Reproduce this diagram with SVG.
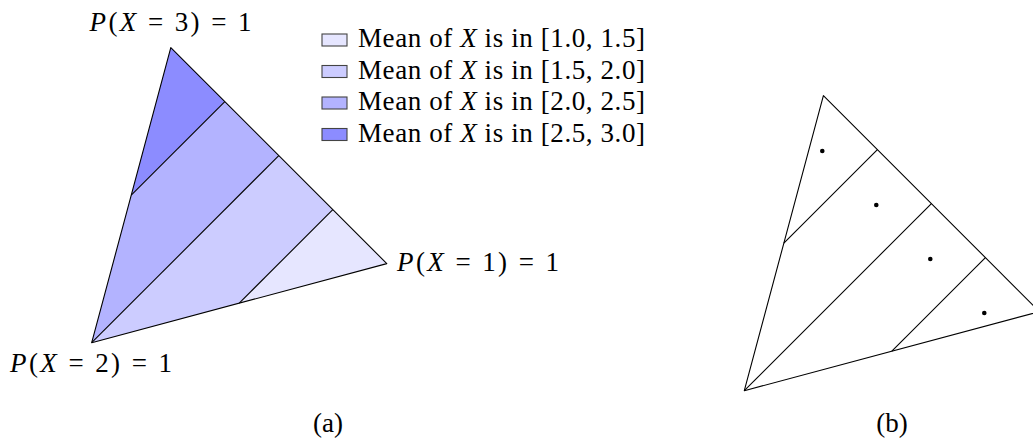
<svg xmlns="http://www.w3.org/2000/svg" width="1033" height="440" viewBox="0 0 1033 440">
<style>
  text { font-family: "Liberation Serif", "Times New Roman", serif; font-size: 27px; fill: #000; }
  .it { font-style: italic; }
  .edge { fill: none; stroke: #000; stroke-width: 1.1; stroke-linejoin: round; }
  .r1 { fill: #e6e6ff; }
  .r2 { fill: #ccccff; }
  .r3 { fill: #b3b3ff; }
  .r4 { fill: #8c8cff; }
  .key { stroke: #444; stroke-width: 1.1; }
  .dot { fill: #000; }
</style>
<rect width="1033" height="440" fill="#fff"/>

<!-- (a) shaded simplex -->
<g id="simplex-a">
  <polygon class="r4" points="170.8,47.6 224.8,101.6 131.25,195.15"/>
  <polygon class="r3" points="131.25,195.15 224.8,101.6 278.8,155.6 91.7,342.7"/>
  <polygon class="r2" points="91.7,342.7 278.8,155.6 332.8,209.6 239.25,303.15"/>
  <polygon class="r1" points="239.25,303.15 332.8,209.6 386.8,263.6"/>
</g>
<g id="edges-a">
  <polygon class="edge" points="170.8,47.6 91.7,342.7 386.8,263.6"/>
  <line class="edge" x1="131.25" y1="195.15" x2="224.8" y2="101.6"/>
  <line class="edge" x1="91.7" y1="342.7" x2="278.8" y2="155.6"/>
  <line class="edge" x1="239.25" y1="303.15" x2="332.8" y2="209.6"/>
</g>

<g id="label-x3">
  <text x="89.5" y="31" textLength="162"><tspan class="it">P</tspan>(<tspan class="it">X</tspan> = 3) = 1</text>
</g>
<g id="label-x1">
  <text x="397" y="271" textLength="162"><tspan class="it">P</tspan>(<tspan class="it">X</tspan> = 1) = 1</text>
</g>
<g id="label-x2">
  <text x="10" y="372" textLength="162"><tspan class="it">P</tspan>(<tspan class="it">X</tspan> = 2) = 1</text>
</g>

<!-- legend -->
<g id="legend">
  <g id="legend-1">
    <rect class="key r1" x="322" y="34" width="25" height="12"/>
    <text x="358" y="47" textLength="287">Mean of <tspan class="it">X</tspan> is in [1.0, 1.5]</text>
  </g>
  <g id="legend-2">
    <rect class="key r2" x="322" y="65.5" width="25" height="12"/>
    <text x="358" y="78.5" textLength="287">Mean of <tspan class="it">X</tspan> is in [1.5, 2.0]</text>
  </g>
  <g id="legend-3">
    <rect class="key r3" x="322" y="97" width="25" height="12"/>
    <text x="358" y="110" textLength="287">Mean of <tspan class="it">X</tspan> is in [2.0, 2.5]</text>
  </g>
  <g id="legend-4">
    <rect class="key r4" x="322" y="128.5" width="25" height="12"/>
    <text x="358" y="141.5" textLength="287">Mean of <tspan class="it">X</tspan> is in [2.5, 3.0]</text>
  </g>
</g>

<g id="caption-a"><text x="328" y="432" text-anchor="middle">(a)</text></g>

<!-- (b) partitioned simplex with points -->
<g id="simplex-b">
  <polygon class="edge" points="823.4,95.6 744.3,390.7 1039.4,311.6"/>
  <line class="edge" x1="783.85" y1="243.15" x2="877.4" y2="149.6"/>
  <line class="edge" x1="744.3" y1="390.7" x2="931.4" y2="203.6"/>
  <line class="edge" x1="891.85" y1="351.15" x2="985.4" y2="257.6"/>
</g>
<g id="points-b">
  <circle class="dot" cx="822.3" cy="151" r="2.3"/>
  <circle class="dot" cx="876.3" cy="205" r="2.3"/>
  <circle class="dot" cx="930.3" cy="259" r="2.3"/>
  <circle class="dot" cx="984.3" cy="313" r="2.3"/>
</g>

<g id="caption-b"><text x="892" y="432" text-anchor="middle">(b)</text></g>
</svg>
